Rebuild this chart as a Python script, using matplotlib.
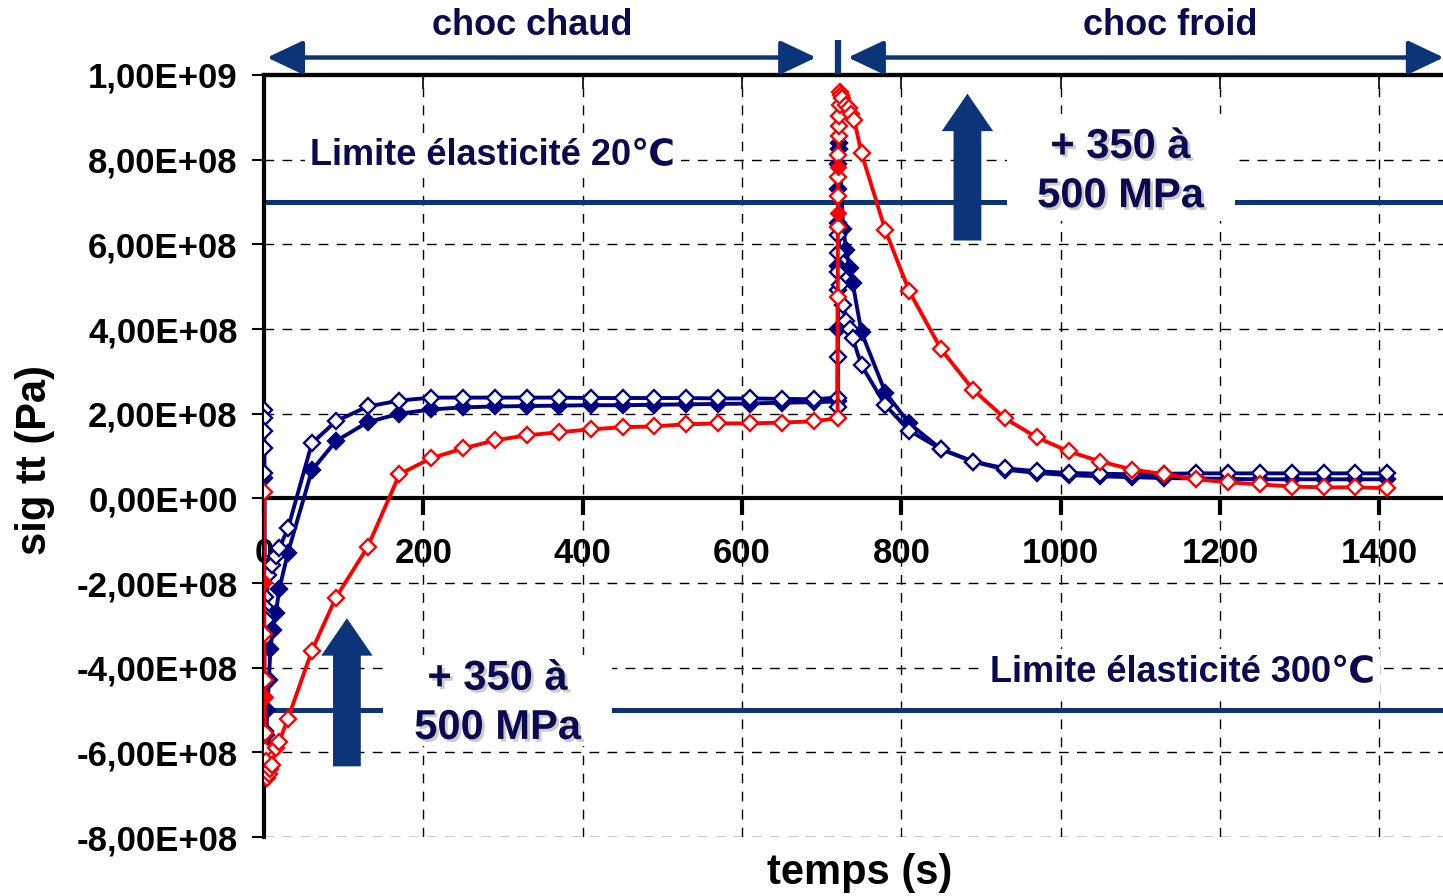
import matplotlib
matplotlib.use("Agg")
import numpy as np
import matplotlib.pyplot as plt
from matplotlib.patches import FancyArrowPatch, Rectangle
import matplotlib.patheffects as pe

plt.rcParams['font.family'] = ['Liberation Sans', 'DejaVu Sans']
plt.rcParams['font.weight'] = 'bold'

# --- data (time in s, stress in 1e8 Pa) ---
bo_t = [0, 0.1, 0.2, 0.3, 0.5, 0.8, 1.2, 1.6, 2.2,
        5, 10, 15, 19, 30, 60, 90, 130,
        170, 210, 250, 290, 330, 370, 410, 450, 490, 530, 570, 610, 650, 690,
        720, 720.1, 720.2, 720.4, 720.6, 720.8, 721,
        723, 727, 731, 735, 739, 750, 780, 810,
        850, 890, 930, 970, 1010, 1050, 1090, 1130, 1170, 1210, 1250, 1290, 1330, 1370, 1410]
bo_v = [2.08, 1.89, 1.60, 1.18, 0.61, -2.34, -2.57, -2.76, -2.88,
        -1.82, -1.58, -1.35, -1.18, -0.71, 1.30, 1.82, 2.17,
        2.31, 2.38, 2.38, 2.38, 2.38, 2.38, 2.37, 2.37, 2.37, 2.37, 2.36, 2.36, 2.35, 2.34,
        2.38, 2.15, 3.33, 4.91, 5.34, 5.79, 6.21,
        5.03, 4.56, 4.20, 4.01, 3.78, 3.14, 2.20, 1.60,
        1.16, 0.87, 0.71, 0.64, 0.60, 0.58, 0.57, 0.58, 0.59, 0.59, 0.59, 0.59, 0.59, 0.59, 0.59]

bf_t = [0, 0.3, 0.6, 1, 1.5, 2, 3, 4, 6, 8, 11, 15, 19, 30, 60, 90, 130,
        170, 210, 250, 290, 330, 370, 410, 450, 490, 530, 570, 610, 650, 690,
        720, 720.2, 720.4, 720.6, 720.8, 721, 721.5, 722,
        727, 731, 735, 739, 750, 780, 810,
        850, 890, 930, 970, 1010, 1050, 1090, 1130, 1170, 1210, 1250, 1290, 1330, 1370, 1410]
bf_v = [0.47, -4.4, -5.0, -5.5, -5.8, -5.9, -5.6, -5.0, -4.3, -3.55, -3.1, -2.7, -2.15, -1.28, 0.66, 1.35, 1.80,
        2.00, 2.10, 2.15, 2.17, 2.18, 2.19, 2.20, 2.20, 2.21, 2.22, 2.23, 2.24, 2.26, 2.27,
        2.29, 4.0, 5.5, 6.5, 7.3, 7.9, 8.26, 8.40,
        6.37, 5.86, 5.43, 5.08, 3.92, 2.50, 1.77,
        1.16, 0.87, 0.68, 0.60, 0.55, 0.52, 0.50, 0.48, 0.47, 0.46, 0.45, 0.45, 0.45, 0.45, 0.45]

r_t = [0, 0.3, 0.6, 1, 1.5, 2, 3, 4, 6, 8, 10, 15, 19, 30, 60, 90, 130,
       170, 210, 250, 290, 330, 370, 410, 450, 490, 530, 570, 610, 650, 690,
       720, 720.2, 720.4, 720.6, 720.8, 721, 721.3, 721.6, 722, 722.5, 723,
       724, 726, 730, 734, 737, 741, 750, 780, 810,
       850, 890, 930, 970, 1010, 1050, 1090, 1130, 1170, 1210, 1250, 1290, 1330, 1370, 1410]
r_v = [0.15, -3.2, -4.3, -5.55, -5.95, -6.2, -6.45, -6.6, -6.5, -6.4, -6.3, -5.9, -5.75, -5.2, -3.6, -2.35, -1.15,
       0.57, 0.95, 1.18, 1.37, 1.49, 1.56, 1.63, 1.68, 1.70, 1.75, 1.77, 1.77, 1.79, 1.82,
       1.89, 4.75, 6.4, 7.15, 7.58, 8.1, 8.57, 8.8, 9.04, 9.3, 9.59,
       9.52, 9.45, 9.28, 9.21, 9.09, 8.93, 8.15, 6.33, 4.89,
       3.52, 2.57, 1.89, 1.44, 1.11, 0.87, 0.68, 0.57, 0.45, 0.38, 0.33, 0.28, 0.26, 0.26, 0.24]

rf_t = [0.4, 0.8, 720.5, 720.9]
rf_v = [-1.98, -4.7, 6.73, 7.82]

t_switch = 720
lim_20 = 7.0e8
lim_300 = -5.0e8

yticks = np.arange(-8e8, 1.01e9, 2e8)
ytick_labels = ["-8,00E+08", "-6,00E+08", "-4,00E+08", "-2,00E+08", "0,00E+00",
                "2,00E+08", "4,00E+08", "6,00E+08", "8,00E+08", "1,00E+09"]
xticks = [0, 200, 400, 600, 800, 1000, 1200, 1400]

navy = '#000080'
red = '#ff0000'
dark = '#0a0a50'
blk = '#0c3579'

fig = plt.figure(figsize=(14.43, 8.96), dpi=100)
ax = fig.add_axes([0.183, 0.0658, 0.817, 0.8505])
ax.set_xlim(0, 1480)
ax.set_ylim(-8e8, 1e9)

ax.grid(True, color='black', lw=1, ls=(0, (7, 6)))
ax.set_axisbelow(True)

ax.spines['right'].set_visible(False)
ax.spines['bottom'].set_position(('data', 0))
for s in ['left', 'bottom', 'top']:
    ax.spines[s].set_linewidth(3)
ax.set_yticks(yticks)
ax.set_yticklabels(ytick_labels, fontsize=25, fontweight='bold')
ax.set_xticks(xticks)
ax.set_xticklabels([str(x) for x in xticks], fontsize=25, fontweight='bold')
ax.tick_params(axis='y', direction='out', length=9, width=1.5, pad=10)
ax.tick_params(axis='x', direction='out', length=12, width=3, pad=16)
sec = ax.secondary_xaxis('top')
sec.set_xticks(xticks)
sec.set_xticklabels([])
sec.tick_params(direction='in', length=10, width=1.2)
sec.spines['top'].set_linewidth(3)

# limit lines
ax.axhline(lim_20, color=blk, lw=3.6, zorder=2)
ax.axhline(lim_300, color=blk, lw=3.6, zorder=2)

# series
m = dict(marker='D', ms=8.5, mew=1.7, lw=2.8, zorder=5)
ax.plot(bf_t, np.array(bf_v) * 1e8, color=navy, mfc=navy, mec=navy, **m)
ax.plot(bo_t, np.array(bo_v) * 1e8, color=navy, mfc='white', mec=navy, **m)
ax.plot(r_t, np.array(r_v) * 1e8, color=red, mfc='white', mec=red, **m)
ax.plot(rf_t, np.array(rf_v) * 1e8, ls='none', marker='D', ms=8.5, mfc=red, mec=red, zorder=6)

# white boxes behind the "+350 a 500 MPa" notes
ax.add_patch(Rectangle((933, 6.56e8), 286, 2.53e8, facecolor='white', edgecolor='none', zorder=3))
ax.add_patch(Rectangle((149, -5.85e8), 288, 2.15e8, facecolor='white', edgecolor='none', zorder=3))

shadow = [pe.withSimplePatchShadow(offset=(2, -2), shadow_rgbFace='#999999', alpha=0.5)]
ax.text(1075, 7.72e8, "+ 350 à\n500 MPa", fontsize=30, fontweight='bold', color=dark,
        ha='center', va='center', linespacing=1.3, zorder=4, path_effects=shadow)
ax.text(293, -4.84e8, "+ 350 à\n500 MPa", fontsize=30, fontweight='bold', color=dark,
        ha='center', va='center', linespacing=1.3, zorder=4, path_effects=shadow)

ax.text(58, 8.1e8, "Limite élasticité 20℃", fontsize=26, fontweight='bold', color=dark,
        ha='left', va='center', zorder=4,
        bbox=dict(boxstyle='square,pad=0.15', fc='white', ec='none'))
ax.text(911, -4.11e8, "Limite élasticité 300℃", fontsize=26, fontweight='bold', color=dark,
        ha='left', va='center', zorder=4,
        bbox=dict(boxstyle='square,pad=0.15', fc='white', ec='none'))

# block arrows
for xa, y0, y1 in [(883, 6.09e8, 9.56e8), (104, -6.33e8, -2.83e8)]:
    ax.add_patch(FancyArrowPatch((xa, y0), (xa, y1),
                                 arrowstyle='simple,head_length=2.7,head_width=3.7,tail_width=2.0',
                                 mutation_scale=10, color=blk, lw=0, zorder=4,
                                 shrinkA=0, shrinkB=0))

# phase arrows above the plot
ya = 1.0413e9
for x0, x1 in [(3.8, 693), (733, 1481)]:
    ax.add_patch(FancyArrowPatch((x0, ya), (x1, ya),
                                 arrowstyle='<|-|>,head_length=1.1,head_width=0.52',
                                 mutation_scale=20, color=blk, lw=3.2, clip_on=False,
                                 shrinkA=0, shrinkB=0, zorder=6))
ax.plot([t_switch, t_switch], [1.0035e9, 1.0815e9], color=blk, lw=4.5, clip_on=False,
        solid_capstyle='butt', zorder=6)

fig.text(0.369, 0.972, "choc chaud", fontsize=26, fontweight='bold', color=dark,
         ha='center', va='center')
fig.text(0.811, 0.972, "choc froid", fontsize=26, fontweight='bold', color=dark,
         ha='center', va='center')

fig.text(0.0243, 0.487, "sig tt (Pa)", fontsize=30, fontweight='bold', rotation=90,
         ha='center', va='center')
fig.text(0.596, 0.0257, "temps (s)", fontsize=30, fontweight='bold', ha='center', va='center')

fig.savefig("out.png", dpi=100)
